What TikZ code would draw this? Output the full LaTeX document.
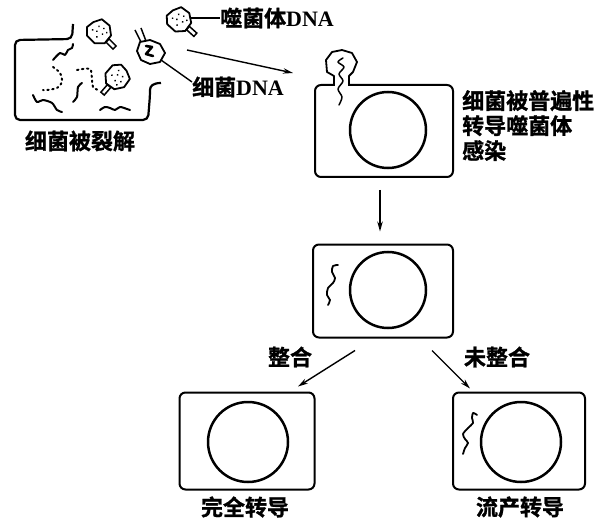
\documentclass[tikz,border=0pt]{standalone}
\usepackage{fontspec}
\setmainfont{Liberation Serif}
\newfontfamily\cjk{Noto Sans CJK SC}[BoldFont={Noto Sans CJK SC Bold}, BoldFeatures={FakeBold=1.2}]
\usetikzlibrary{arrows.meta,calc}

\tikzset{
  cell/.style={draw, rounded corners=6pt, line width=2pt, inner sep=0pt},
  chrom/.style={draw, circle, line width=2.5pt, inner sep=0pt, minimum size=#1},
  lbl/.style={font=\cjk\bfseries\fontsize{22}{25}\selectfont, inner sep=0pt},
  strand/.style={line width=2pt, line cap=round, line join=round},
  arr/.style={line width=1.4pt, -{Stealth[length=10pt,width=5.5pt]}},
  pics/phage/.style={code={
      \draw[line width=1.8pt, fill=white, line join=round]
        (-11,-3) -- (-7,-11) -- (3,-12) -- (11,-6) -- (12,4) -- (5,11) -- (-6,11) -- (-12,5) -- cycle;
      \draw[line width=1.5pt] (12,-2.2) rectangle (22,2.2);
      \foreach \p in {(-4,-4),(1,-6),(4,-1),(-2,1),(-6,3),(2,5),(6,-5)}
        \fill \p circle (1);
  }},
}

\begin{document}
\begin{tikzpicture}[x=1pt, y=-1pt]
  \useasboundingbox (0,0) rectangle (612,521);

  % lysed bacterium
  \draw[line width=2.2pt, rounded corners=5pt] (73,24) -- (72,39) -- (15,40) -- (15,120) -- (148,120) -- (150,95)
    [sharp corners] .. controls (150,86) and (153,83) .. (161,83);
  \draw[strand] plot[smooth] coordinates {(53,60) (60,53) (65,55) (68,50) (72,48) (73,44)};
  \draw[strand] plot[smooth] coordinates {(33,95) (37,102) (43,100) (52,103) (57,110) (62,112)};
  \draw[strand] plot[smooth] coordinates {(82,83) (78,87) (77,97) (73,102)};
  \draw[strand] plot[smooth] coordinates {(100,110) (105,107) (110,108) (115,110) (120,107) (127,109) (130,110)};
  \draw[strand, dash pattern=on 1.5pt off 3.5pt] plot[smooth] coordinates {(53,67) (60,73) (62,82) (57,88) (47,90) (43,90)};
  \draw[strand, dash pattern=on 1.5pt off 3.5pt] plot[smooth] coordinates {(77,70) (90,69) (92,80) (93,87) (98,90)};
  \pic[rotate=-45] at (99,32) {phage};
  \pic[rotate=-131] at (117,77) {phage};
  \node[lbl] (lysed) at (80,141) {细菌被裂解};

  % free phage and transducing phage
  \pic[rotate=-42] (free) at (179,20) {phage};
  \node[lbl, anchor=west] (phagedna) at (220,18) {噬菌体{\rmfamily\bfseries DNA}};
  \coordinate (freehead) at (191,18);
  \draw[line width=1.4pt] (freehead) -- (phagedna.west);

  \draw[line width=1.8pt, fill=white, line join=round]
    (140,42) -- (150,40) -- (160,44) -- (165,53) -- (160,62) -- (150,64) -- (141,60) -- (137,51) -- cycle;
  \draw[line width=1.5pt] (141,42) -- (135,30) (146,41) -- (141,28);
  \draw[strand, line width=2.6pt] (146,46) -- (152,47) -- (146,54) -- (153,56);
  \coordinate (dnahead) at (161,60);
  \node[lbl, anchor=west] (hostdna) at (192,87) {细菌{\rmfamily\bfseries DNA}};
  \draw[line width=1.4pt] (dnahead) -- ($(hostdna.west)+(0,-5)$);

  \coordinate (lysis) at (187,50);
  \coordinate (toinf) at (293,73);
  \draw[arr] (lysis) -- (toinf);

  % infected cell
  \node[cell, minimum width=138pt, minimum height=92pt] (infected) at (384,131) {};
  \node[chrom=76pt] (infchrom) at (388,130) {};
  \fill[white] (335,81) rectangle (349,90);
  \draw[line width=1.8pt, fill=white, line join=round]
    (334,86) -- (334,76) -- (327,72) -- (326,60) -- (332,52) -- (342,50) -- (352,53) -- (357,62) -- (353,72) -- (349,76) -- (349,86);
  \draw[strand, line width=1.5pt] plot[smooth] coordinates {(343,58) (338,62) (344,67) (339,74) (343,81) (338,89) (342,97) (339,105)};
  \node[lbl, anchor=north west, align=left] (infection) at (462,90) {细菌被普遍性\\转导噬菌体\\感染};

  % recipient cell with transduced fragment
  \node[cell, minimum width=140pt, minimum height=93pt] (host) at (383,291) {};
  \node[chrom=76pt] (hostchrom) at (388,290) {};
  \draw[strand, line width=1.8pt] plot[smooth] coordinates {(338,265) (333,266) (332,272) (335,278) (333,283) (328,288) (327,295) (330,300) (328,305)};
  \draw[arr] ($(infected.south)+(-4,12)$) -- ($(host.north)+(-3,-12)$);

  % outcomes
  \node[cell, minimum width=135pt, minimum height=97pt] (complete) at (247,441) {};
  \node[chrom=80pt] (compchrom) at (248,442) {};
  \node[lbl] (completelbl) at (245,507) {完全转导};

  \node[cell, minimum width=132pt, minimum height=97pt] (abortive) at (519,441) {};
  \node[chrom=80pt] (abortchrom) at (521,442) {};
  \draw[strand, line width=1.8pt] plot[smooth] coordinates {(477,415) (473,413) (472,418) (473,423) (468,428) (463,434) (465,439) (468,443) (465,448) (463,454)};
  \node[lbl] (abortivelbl) at (520,507) {流产转导};

  \draw[arr] ($(host.south)+(-28,12)$) -- ($(complete.north)+(51,-5)$);
  \draw[arr] ($(host.south)+(49,12)$) -- ($(abortive.north)+(-49,-3)$);
  \node[lbl] (integr) at (290,357) {整合};
  \node[lbl] (nointegr) at (497,357) {未整合};
\end{tikzpicture}
\end{document}
